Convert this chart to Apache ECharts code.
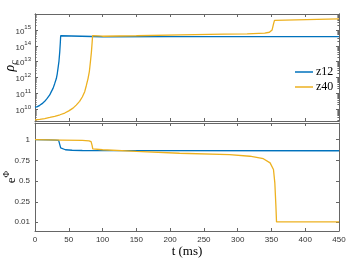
<!DOCTYPE html>
<html><head><meta charset="utf-8">
<script src="https://cdn.jsdelivr.net/npm/echarts@6/dist/echarts.min.js"></script>
<style>html,body{margin:0;padding:0;background:#fff}#c{width:358px;height:269px}</style>
</head><body><div id="c"></div>
<script>
// ---- data ----
const seriesNames = ['z12', 'z40'];
const xTicks = [0, 50, 100, 150, 200, 250, 300, 350, 400, 450];
const rhoTickExponents = [10, 11, 12, 13, 14, 15];
const ephiTicks = [0.01, 0.25, 0.5, 0.75, 1];
const ephiTickLabels = ['0.01', '0.25', '0.5', '0.75', '1'];

// top panel: central density rho_c
const tRhoZ12 = [0, 3.5, 7, 10.5, 14.4, 18, 21.8, 24, 26.7, 29, 31.6, 33, 34, 35.5, 36.6, 37.5, 38, 38.8, 40, 100, 200, 300, 450];
const rhoZ12  = [1.32e10, 1.48e10, 1.8e10, 2.3e10, 3.2e10, 4.9e10, 8.1e10, 1.26e11, 2.1e11, 4.0e11, 8.7e11, 1.8e12, 3.7e12, 1.1e13, 4.0e13, 1.6e14, 4.3e14, 3.7e14, 3.7e14, 3.7e14, 3.8e14, 3.8e14, 3.8e14];
const tRhoZ40 = [0, 7, 14.4, 22, 29.2, 37, 44, 50, 56.3, 61, 66, 70, 73.6, 76, 78.5, 80.5, 82, 83.5, 84.6, 85.3, 86.5, 100, 150, 215, 280, 314, 340, 347, 351, 353, 354.5, 355.5, 450];
const rhoZ40  = [2.2e9, 2.35e9, 2.6e9, 3.1e9, 3.7e9, 4.6e9, 5.9e9, 8.1e9, 1.2e10, 1.86e10, 3.2e10, 6.0e10, 1.3e11, 3.2e11, 8.7e11, 2.5e12, 9.5e12, 4.0e13, 1.66e14, 4.4e14, 4.0e14, 4.0e14, 4.3e14, 4.9e14, 5.4e14, 5.6e14, 6.3e14, 7.1e14, 1.0e15, 2.3e15, 4.0e15, 4.9e15, 4.9e15];

// bottom panel: e^Phi
const tPhiZ12 = [0, 20, 30, 35, 37, 38, 39, 45, 55, 70, 150, 450];
const phiZ12  = [1.0, 0.998, 0.995, 0.99, 0.98, 0.9, 0.888, 0.878, 0.872, 0.869, 0.867, 0.866];
const tPhiZ40 = [0, 40, 70, 80, 83, 84.5, 85.5, 100, 150, 214, 288, 318, 338, 348, 353, 355, 356.6, 357.5, 450];
const phiZ40  = [1.0, 0.995, 0.99, 0.985, 0.975, 0.93, 0.888, 0.878, 0.858, 0.836, 0.82, 0.80, 0.77, 0.72, 0.64, 0.48, 0.2, 0.01, 0.01];

// ---- build ----
const colors = ['#0072BD', '#EDB120'];
const pairs = (t, v, f) => t.map((x, i) => [x, f ? f(v[i]) : v[i]]);
const lg = v => Math.log10(v);

const RMIN = 9.27, RMAX = 16;
const minorLog = [];
for (let d = 9; d <= 15; d++) for (let k = 2; k <= 9; k++) {
  const v = d + Math.log10(k);
  if (v > RMIN && v < RMAX) minorLog.push(v);
}

const axColor = '#666';
const tickLabelStyle = { fontFamily: 'Liberation Sans, Arial, sans-serif', fontSize: 8, color: '#333' };

function xAx(grid, pos, labels) {
  return {
    type: 'value', gridIndex: grid, position: pos, min: 0, max: 450, interval: 50,
    axisLine: { show: true, onZero: false, lineStyle: { color: axColor, width: 1 } },
    axisTick: { show: true, inside: true, length: 3, lineStyle: { color: axColor } },
    axisLabel: labels ? Object.assign({ show: true, margin: 5, showMinLabel: true, showMaxLabel: true }, tickLabelStyle) : { show: false },
    splitLine: { show: false }
  };
}
function yAx(grid, pos, min, max, ticks, len, label) {
  return {
    type: 'value', gridIndex: grid, position: pos, min: min, max: max,
    axisLine: { show: true, onZero: false, lineStyle: { color: axColor, width: 1 } },
    axisTick: { show: true, inside: true, length: len, customValues: ticks, lineStyle: { color: axColor } },
    axisLabel: label || { show: false },
    splitLine: { show: false }
  };
}

const option = {
  animation: false,
  backgroundColor: '#fff',
  color: colors,
  grid: [
    { left: 35, right: 19, top: 14, height: 107 },
    { left: 35, right: 19, top: 123, height: 108 }
  ],
  xAxis: [
    xAx(0, 'bottom', false),
    xAx(0, 'top', false),
    xAx(1, 'bottom', true),
    xAx(1, 'top', false)
  ],
  yAxis: [
    yAx(0, 'left', RMIN, RMAX, rhoTickExponents, 3, {
      show: true, margin: 4, customValues: rhoTickExponents,
      formatter: v => '{b|10}{s|' + Math.round(v) + '}',
      rich: {
        b: { fontFamily: 'Liberation Sans, Arial, sans-serif', fontSize: 8, color: '#333', lineHeight: 11, verticalAlign: 'bottom' },
        s: { fontFamily: 'Liberation Sans, Arial, sans-serif', fontSize: 6, color: '#333', verticalAlign: 'top' }
      }
    }),
    yAx(0, 'right', RMIN, RMAX, rhoTickExponents, 3),
    yAx(0, 'left', RMIN, RMAX, minorLog, 1.6),
    yAx(0, 'right', RMIN, RMAX, minorLog, 1.6),
    yAx(1, 'left', -0.1, 1.2, ephiTicks, 3, Object.assign({
      show: true, margin: 5, customValues: ephiTicks,
      formatter: v => ephiTickLabels[ephiTicks.indexOf(v)] !== undefined ? ephiTickLabels[ephiTicks.indexOf(v)] : String(v)
    }, tickLabelStyle)),
    yAx(1, 'right', -0.1, 1.2, ephiTicks, 3)
  ],
  legend: {
    orient: 'vertical', left: 290, top: 60, itemWidth: 18, itemHeight: 1.5, itemGap: 1,
    icon: 'rect',
    data: seriesNames,
    textStyle: { fontFamily: 'Liberation Serif, DejaVu Serif, serif', fontSize: 12, color: '#000', lineHeight: 14, padding: [0, 0, 0, -2] }
  },
  series: [
    { name: seriesNames[0], type: 'line', xAxisIndex: 0, yAxisIndex: 0, symbol: 'none', data: pairs(tRhoZ12, rhoZ12, lg), lineStyle: { width: 1.3, color: colors[0] }, itemStyle: { color: colors[0] } },
    { name: seriesNames[1], type: 'line', xAxisIndex: 0, yAxisIndex: 0, symbol: 'none', data: pairs(tRhoZ40, rhoZ40, lg), lineStyle: { width: 1.3, color: colors[1] }, itemStyle: { color: colors[1] } },
    { name: seriesNames[0], type: 'line', xAxisIndex: 2, yAxisIndex: 4, symbol: 'none', data: pairs(tPhiZ12, phiZ12), lineStyle: { width: 1.3, color: colors[0] }, itemStyle: { color: colors[0] } },
    { name: seriesNames[1], type: 'line', xAxisIndex: 2, yAxisIndex: 4, symbol: 'none', data: pairs(tPhiZ40, phiZ40), lineStyle: { width: 1.3, color: colors[1] }, itemStyle: { color: colors[1] } }
  ],
  graphic: [
    { type: 'text', x: 11, y: 66, rotation: Math.PI / 2,
      style: { text: '{r|ρ}{c|c}', textAlign: 'center', textVerticalAlign: 'middle',
        rich: { r: { fontFamily: 'Liberation Serif, serif', fontStyle: 'italic', fontSize: 14, fill: '#000', lineHeight: 16, verticalAlign: 'top' },
                c: { fontFamily: 'Liberation Serif, serif', fontStyle: 'italic', fontSize: 10, fill: '#000', verticalAlign: 'bottom' } } } },
    { type: 'text', x: 10, y: 177, rotation: Math.PI / 2,
      style: { text: '{e|e}{p|Φ}', textAlign: 'center', textVerticalAlign: 'middle',
        rich: { e: { fontFamily: 'Liberation Serif, serif', fontSize: 13, fill: '#000', lineHeight: 16, verticalAlign: 'bottom' },
                p: { fontFamily: 'Liberation Serif, serif', fontSize: 9, fill: '#000', verticalAlign: 'top' } } } },
    { type: 'text', x: 187, y: 252,
      style: { text: 't (ms)', textAlign: 'center', textVerticalAlign: 'middle', fontFamily: 'Liberation Serif, serif', fontSize: 13, fill: '#000' } }
  ]
};

const chart = echarts.init(document.getElementById('c'), null, { renderer: 'canvas' });
chart.setOption(option);
</script>
</body></html>
